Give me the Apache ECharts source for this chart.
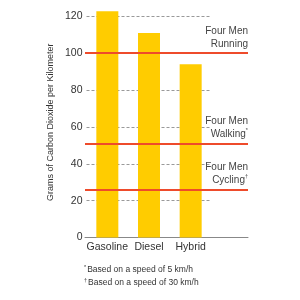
<!DOCTYPE html>
<html>
<head>
<meta charset="utf-8">
<script src="https://cdn.jsdelivr.net/npm/echarts@6/dist/echarts.min.js"></script>
<style>html,body{margin:0;padding:0;background:#fff}#c{width:300px;height:300px}</style>
</head>
<body>
<div id="c"></div>
<script>
var categories = ['Gasoline', 'Diesel', 'Hybrid'];
var emissions = [122.7, 111, 94];
var yTicks = [0, 20, 40, 60, 80, 100, 120];
var refValues = [100, 51, 26];
var refNames = ['Four Men\nRunning', 'Four Men\n{n|Walking}{s|*}', 'Four Men\n{n|Cycling}{s|†}'];
var footnotes = ['{s|*}Based on a speed of 5 km/h', '{s|†}Based on a speed of 30 km/h'];
var yTitle = 'Grams of Carbon Dioxide per Kilometer';

var FONT = '"Liberation Sans Narrow", "Liberation Sans", Arial, sans-serif';
var TXT = '#333';
var RED = '#EE4B2B';
var chart = echarts.init(document.getElementById('c'), null, {renderer: 'canvas'});
var gridTop = 7.1, gridBottom = 62.5;
chart.setOption({
  animation: false,
  title: footnotes.map(function (t, i) {
    return {
      text: t, left: 84, top: 264.5 + i * 13.3, padding: 0,
      textStyle: {fontFamily: FONT, fontSize: 8.5, fontWeight: 'normal', color: TXT,
        rich: {s: {fontSize: 5.5, verticalAlign: 'top', color: TXT, fontFamily: FONT, padding: [0, 1, 4, 0]}}}
    };
  }),
  grid: [
    {left: 86.5, right: 88.5, top: gridTop, bottom: gridBottom},
    {left: 85, right: 52, top: gridTop, bottom: gridBottom}
  ],
  xAxis: [
    {type: 'category', gridIndex: 0, data: categories,
     axisLine: {show: false}, axisTick: {show: false},
     axisLabel: {interval: 0, fontFamily: FONT, fontSize: 10.5, color: TXT, margin: 4}},
    {type: 'value', gridIndex: 1, min: 0, max: 1, show: true,
     axisLine: {show: true, onZero: false, lineStyle: {color: '#888', width: 1}},
     axisTick: {show: false}, axisLabel: {show: false}, splitLine: {show: false}}
  ],
  yAxis: [
    {type: 'value', gridIndex: 0, min: 0, max: 125, interval: 20,
     name: yTitle, nameLocation: 'middle', nameGap: 31,
     nameTextStyle: {fontFamily: FONT, fontSize: 9, color: TXT},
     axisLine: {show: false}, axisTick: {show: false},
     axisLabel: {fontFamily: FONT, fontSize: 10.5, color: TXT, margin: 4, showMaxLabel: false,
       formatter: function (v) { return yTicks.indexOf(v) >= 0 ? String(v) : ''; }},
     splitLine: {show: true, showMinLine: false, showMaxLine: false,
       lineStyle: {color: '#999', width: 1, type: [3, 2]}}},
    {type: 'value', gridIndex: 1, min: 0, max: 125, show: false}
  ],
  series: [
    {type: 'bar', xAxisIndex: 0, yAxisIndex: 0, data: emissions, barWidth: 22,
     itemStyle: {color: '#FFCC00'}},
    {type: 'line', xAxisIndex: 1, yAxisIndex: 1, data: [], silent: true,
     markLine: {
       symbol: 'none', silent: true, animation: false,
       lineStyle: {color: RED, width: 1.8, type: 'solid'},
       label: {show: true, position: 'insideEndTop', distance: [0, 3],
         fontFamily: FONT, fontSize: 10, color: '#444', align: 'right', lineHeight: 12.6,
         rich: {n: {fontFamily: FONT, fontSize: 10, color: '#444', lineHeight: 12.6},
                s: {fontFamily: FONT, fontSize: 5.5, color: '#444', verticalAlign: 'top', lineHeight: 12.6}},
         formatter: function (p) { return refNames[p.dataIndex]; }},
       data: refValues.map(function (v) { return {yAxis: v}; })
     }}
  ]
});
</script>
</body>
</html>
